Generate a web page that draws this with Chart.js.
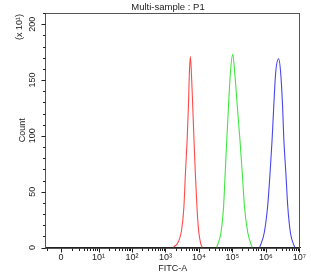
<!DOCTYPE html>
<html><head><meta charset="utf-8">
<script src="https://cdn.jsdelivr.net/npm/chart.js@4/dist/chart.umd.min.js"></script>
<style>html,body{margin:0;padding:0;background:#fff;overflow:hidden;}</style>
</head><body><canvas id="c" width="311" height="275"></canvas>
<script>
// ---- chart text ----
const chartTitle = 'Multi-sample : P1';
const xAxisTitle = 'FITC-A';
const yAxisTitle = 'Count';
const yMultiplierLabel = '(x 10\u00B9)';

// ---- axes (x values are decade positions, i.e. log10 of FITC-A; "0" sits on the biexponential zero) ----
const xTickPositions = [-0.12, 1, 2, 3, 4, 5, 6, 7];
const xTickLabels = ['0', '10\u00B9', '10\u00B2', '10\u00B3', '10\u2074', '10\u2075', '10\u2076', '10\u2077'];
const yTickValues = [0, 50, 100, 150, 200];
const yTickLabels = ['0', '50', '100', '150', '200'];

// ---- histogram series (x: log10 FITC-A, y: count in units of 10^1) ----
const redX = [3.235, 3.382, 3.479, 3.550, 3.597, 3.647, 3.685, 3.715, 3.744, 3.774, 3.815, 3.853, 3.891, 3.941, 3.991, 4.050, 4.097];
const redY = [0, 5, 15, 36, 67, 96, 126, 157, 171, 157, 126, 96, 67, 36, 15, 4, 0];

const greenX = [4.529, 4.656, 4.735, 4.785, 4.832, 4.882, 4.941, 5.009, 5.068, 5.147, 5.226, 5.294, 5.362, 5.462, 5.588];
const greenY = [0, 13, 36, 67, 96, 126, 157, 173, 157, 126, 96, 67, 36, 13, 0];

const blueX = [5.815, 5.950, 6.050, 6.126, 6.185, 6.235, 6.294, 6.382, 6.441, 6.500, 6.538, 6.597, 6.656, 6.735, 6.862];
const blueY = [0, 13, 36, 67, 96, 126, 157, 169, 157, 126, 96, 67, 36, 13, 0];

const toPoints = (xs, ys) => xs.map((x, i) => ({x: x, y: ys[i]}));

const FONT = '"Liberation Sans", Arial, sans-serif';

const decorPlugin = {
  id: 'decor',
  afterDraw(chart) {
    const {ctx, chartArea: a, scales} = chart;
    const xs = scales.x, ys = scales.y;
    ctx.save();
    // frame
    ctx.strokeStyle = '#555';
    ctx.lineWidth = 1;
    ctx.strokeRect(Math.round(a.left) + 0.5, Math.round(a.top) + 0.5, Math.round(a.right - a.left) - 1, Math.round(a.bottom - a.top));
    ctx.strokeStyle = '#222';
    ctx.beginPath();
    // x ticks: majors + log minors
    const bx = Math.round(a.bottom) + 0.5;
    const xMinor = [];
    for (let d = 1; d < 7; d++) for (let k = 2; k <= 9; k++) xMinor.push(d + Math.log10(k));
    const z = xTickPositions[0];
    for (let k = 2; k <= 9; k++) xMinor.push(z + (1 - z) * Math.log10(k));
    xMinor.push(-0.53);
    xTickPositions.forEach(v => { const p = Math.round(xs.getPixelForValue(v)) + 0.5; ctx.moveTo(p, bx); ctx.lineTo(p, bx + 4); });
    xMinor.forEach(v => { const p = Math.round(xs.getPixelForValue(v)) + 0.5; ctx.moveTo(p, bx); ctx.lineTo(p, bx + 2.5); });
    // y ticks
    const lx = Math.round(a.left) + 0.5;
    for (let v = 0; v <= 210; v += 10) {
      const p = Math.round(ys.getPixelForValue(v)) + 0.5;
      const len = (v % 50 === 0) ? 4 : 2.5;
      ctx.moveTo(lx, p); ctx.lineTo(lx - len, p);
    }
    ctx.stroke();
    // title
    ctx.fillStyle = '#222';
    ctx.font = '9.5px ' + FONT;
    ctx.textAlign = 'center';
    ctx.textBaseline = 'middle';
    ctx.fillText(chartTitle, 168, 7);
    // y multiplier, rotated
    ctx.translate(20, 27);
    ctx.rotate(-Math.PI / 2);
    ctx.font = '9px ' + FONT;
    ctx.fillText(yMultiplierLabel, 0, 0);
    ctx.restore();
  }
};

new Chart(document.getElementById('c'), {
  type: 'line',
  data: {
    datasets: [
      {data: toPoints(redX, redY), borderColor: '#ff4a4a'},
      {data: toPoints(greenX, greenY), borderColor: '#3fe63f'},
      {data: toPoints(blueX, blueY), borderColor: '#4646f0'}
    ].map(d => Object.assign(d, {borderWidth: 1.1, pointRadius: 0, fill: false, cubicInterpolationMode: 'monotone'}))
  },
  options: {
    responsive: false,
    devicePixelRatio: 1,
    animation: false,
    layout: {padding: {left: 0, right: 7, top: 13, bottom: 0}},
    plugins: {legend: {display: false}, title: {display: false}, tooltip: {enabled: false}},
    scales: {
      x: {
        type: 'linear', min: -0.6, max: 7.03,
        grid: {display: false, drawTicks: false},
        border: {display: true, color: '#222', width: 1},
        afterBuildTicks: s => { s.ticks = xTickPositions.map(v => ({value: v})); },
        afterFit: s => { s.height = 27.5; },
        ticks: {
          autoSkip: false, maxRotation: 0, minRotation: 0, padding: 5, color: '#222',
          font: {family: FONT, size: 9},
          callback: (v, i) => xTickLabels[i]
        },
        title: {display: true, text: xAxisTitle, color: '#222', font: {family: FONT, size: 9}, padding: {top: 0, bottom: 1}}
      },
      y: {
        type: 'linear', min: 0, max: 210,
        grid: {display: false, drawTicks: false},
        border: {display: true, color: '#222', width: 1},
        afterBuildTicks: s => { s.ticks = yTickValues.map(v => ({value: v})); },
        afterFit: s => { s.width = 45; },
        ticks: {
          autoSkip: false, minRotation: 90, maxRotation: 90, padding: 5, crossAlign: 'center', color: '#222',
          font: {family: FONT, size: 9},
          callback: (v, i) => yTickLabels[i]
        },
        title: {display: true, text: yAxisTitle, color: '#222', font: {family: FONT, size: 9}, padding: {top: 17.5, bottom: 0}}
      }
    }
  },
  plugins: [decorPlugin]
});
</script>
</body></html>
